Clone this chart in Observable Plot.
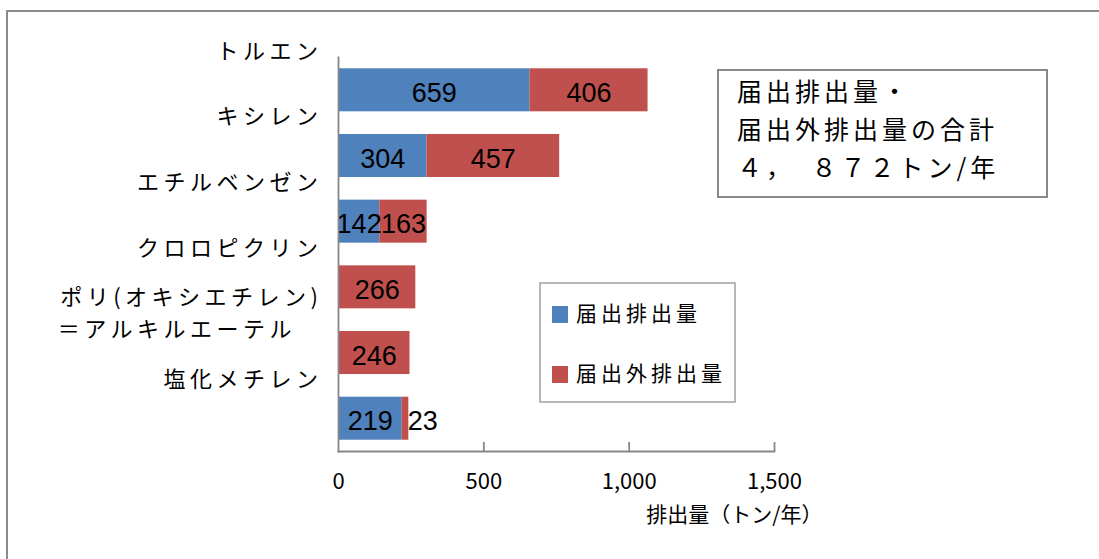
<!DOCTYPE html>
<html><head><meta charset="utf-8">
<script src="https://cdn.jsdelivr.net/npm/d3@7"></script>
<script src="https://cdn.jsdelivr.net/npm/@observablehq/plot@0.6"></script>
<style>body{margin:0;background:#fff} #chart{width:1099px;height:559px}</style>
</head><body><div id="chart"></div>
<script>
const categories = ["トルエン","キシレン","エチルベンゼン","クロロピクリン","ポリ(オキシエチレン)＝アルキルエーテル","塩化メチレン"];
const categoryLabels = ["トルエン","キシレン","エチルベンゼン","クロロピクリン","ポリ(オキシエチレン)\n＝アルキルエーテル　","塩化メチレン"];
const reported = [659,304,142,0,0,219];
const unreported = [406,457,163,266,246,23];
const seriesNames = ["届出排出量","届出外排出量"];
const seriesColors = ["#4F81BD","#C0504D"];
const xTicks = [0,500,1000,1500];
const xTitle = "排出量（トン/年）";
const noteLines = ["届出排出量・","届出外排出量の合計","４，　８７２トン/年"];

const data = [];
categories.forEach((c,i)=>{
  data.push({category:c, type:seriesNames[0], value:reported[i]});
  data.push({category:c, type:seriesNames[1], value:unreported[i]});
});
const labelOf = new Map(categories.map((c,i)=>[c,categoryLabels[i]]));
const axisColor = "#878787";
const jp = "'Noto Sans CJK JP', sans-serif";

const stackOpts = {x:"value", y:"category", z:"type", order: seriesNames};

const plot = Plot.plot({
  width:1099, height:559,
  marginLeft:338, marginRight:325, marginTop:57, marginBottom:108,
  x:{domain:[0,1500], axis:null},
  y:{domain:categories, axis:null, paddingInner:0.345, paddingOuter:0.172, round:false},
  color:{domain:seriesNames, range:seriesColors},
  marks:[
    Plot.barX(data, Plot.stackX({...stackOpts, fill:"type"})),
    Plot.text(data, Plot.stackX({...stackOpts, text:d=>d.value>=50?String(d.value):"", dy:3,
      fontSize:27, fontFamily:"'Liberation Sans', Arial, sans-serif", fill:"#000"})),
    Plot.text(data, Plot.stackX2({...stackOpts, text:d=>(d.value>0&&d.value<50)?String(d.value):"", dy:3, dx:-1,
      textAnchor:"start", fontSize:27, fontFamily:"'Liberation Sans', Arial, sans-serif", fill:"#000"})),
    Plot.frame({anchor:"left", stroke:axisColor, strokeWidth:1.8}),
    Plot.frame({anchor:"bottom", stroke:axisColor, strokeWidth:1.8}),
    Plot.ruleX(xTicks.slice(1), {insetTop:385, stroke:axisColor, strokeWidth:1.8}),
    Plot.text(xTicks, {x:d=>d, frameAnchor:"bottom", dy:37, text:d=>d3.format(",")(d),
      fontSize:22, fontFamily:jp, fill:"#000"}),
    Plot.text([xTitle], {frameAnchor:"bottom-right", dx:48, dy:70, textAnchor:"end", text:d=>d,
      fontSize:21, fontFamily:jp, fill:"#000"}),
    Plot.text(categories, {y:d=>d, frameAnchor:"left", dx:-16, dy:-42, textAnchor:"end",
      text:d=>labelOf.get(d), lineHeight:1.45, fontSize:22, fontFamily:jp, fill:"#000"})
  ]
});

const svg = d3.select(plot);
const labelSet = new Set(categoryLabels.map(l=>l.replace("\n","")));
svg.selectAll("text").filter(function(){ return labelSet.has(this.textContent); })
  .style("letter-spacing","4.5px");

// outer chart border (extends beyond the visible area on right/bottom)
svg.insert("rect", ":first-child")
  .attr("x",7).attr("y",11).attr("width",1200).attr("height",600)
  .attr("fill","none").attr("stroke","#8c8c8c").attr("stroke-width",2);

// legend box
const lg = svg.append("g").attr("font-family", jp).attr("text-anchor","start");
lg.append("rect").attr("x",540).attr("y",283).attr("width",195).attr("height",119)
  .attr("fill","#fff").attr("stroke","#a6a6a6").attr("stroke-width",1.6);
seriesNames.forEach((s,i)=>{
  const cy = 314 + i*60;
  lg.append("rect").attr("x",552).attr("y",cy-8).attr("width",16).attr("height",17).attr("fill",seriesColors[i]);
  lg.append("text").attr("x",576).attr("y",cy).attr("dy","0.35em").attr("font-size",21)
    .attr("text-anchor","start").style("letter-spacing","4px").attr("fill","#000").text(s);
});

// note box
const nb = svg.append("g").attr("font-family", jp).attr("text-anchor","start");
nb.append("rect").attr("x",718).attr("y",70).attr("width",329).attr("height",127)
  .attr("fill","#fff").attr("stroke","#888").attr("stroke-width",2);
noteLines.forEach((t,i)=>{
  nb.append("text").attr("x",737).attr("y",92+i*38).attr("dy","0.35em").attr("font-size",25)
    .attr("text-anchor","start").style("letter-spacing","4px").attr("fill","#000").text(t);
});

document.getElementById("chart").appendChild(plot);
</script></body></html>
